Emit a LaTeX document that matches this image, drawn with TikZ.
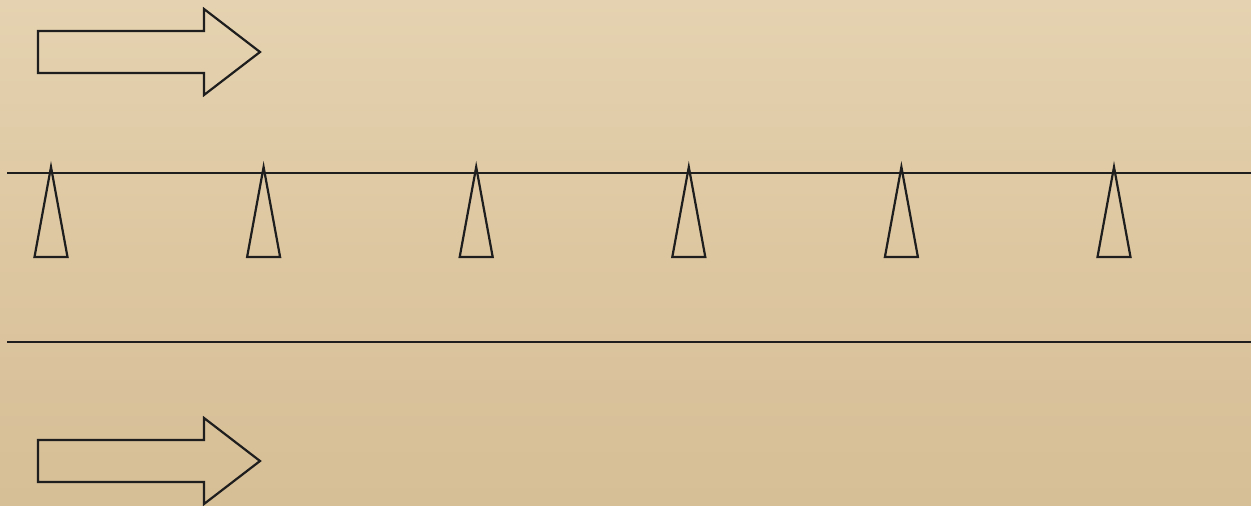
\documentclass[tikz,border=0pt]{standalone}
\definecolor{paper}{RGB}{221,199,161}
\definecolor{paperlight}{RGB}{229,210,176}
\definecolor{paperdark}{RGB}{214,190,150}
\definecolor{ink}{RGB}{30,30,30}
\tikzset{
  outline/.style={draw=ink, line width=2.2pt, line join=miter},
  rail/.style={draw=ink, line width=2pt},
  bigarrow/.pic={
    \draw[outline] (0,-21) -- (166,-21) -- (166,-43) -- (222,0) -- (166,43) -- (166,21) -- (0,21) -- cycle;
  },
  tooth/.pic={
    \draw[outline] (0,0) -- (16.5,-90) -- (-16.5,-90) -- cycle;
  }
}
\begin{document}
\begin{tikzpicture}[x=1pt,y=1pt]
\useasboundingbox (0,0) rectangle (1251,-506);
\shade[top color=paperlight, bottom color=paperdark, middle color=paper] (0,0) rectangle (1251,-506);
\coordinate (topArrow) at (38,-52);
\coordinate (botArrow) at (38,-461);
\pic at (topArrow) {bigarrow};
\pic at (botArrow) {bigarrow};
\coordinate (r1a) at (7,-173);
\coordinate (r1b) at (1251,-173);
\coordinate (r2a) at (7,-342);
\coordinate (r2b) at (1251,-342);
\draw[rail] (r1a) -- (r1b);
\draw[rail] (r2a) -- (r2b);
\foreach \i/\x in {1/51,2/263.6,3/476.2,4/688.8,5/901.4,6/1114} {
  \coordinate (t\i) at (\x,-167);
  \pic at (t\i) {tooth};
}
\end{tikzpicture}
\end{document}
